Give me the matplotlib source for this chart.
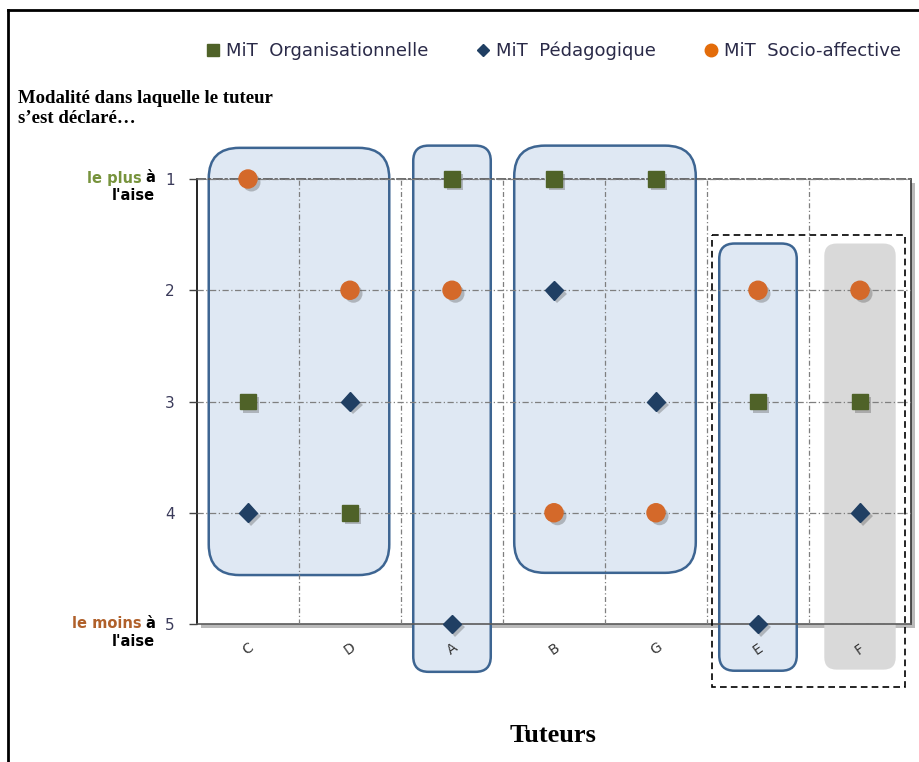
import numpy as np
import matplotlib.pyplot as plt
import matplotlib.patheffects as pe
from matplotlib.patches import FancyBboxPatch, Rectangle
from matplotlib.lines import Line2D

# donnees
tuteurs = ["C", "D", "A", "B", "G", "E", "F"]
organisationnelle = [3, 4, 1, 1, 1, 3, 3]
pedagogique = [4, 3, 5, 2, 3, 5, 4]
socio_affective = [1, 2, 2, 4, 4, 2, 2]
niveaux = [1, 2, 3, 4, 5]

W, H = 919, 762
fig = plt.figure(figsize=(W / 100, H / 100), dpi=100)
ax = fig.add_axes([197 / W, 138 / H, 714 / W, 445 / H])

x = np.arange(len(tuteurs))
ax.set_xlim(-0.5, len(tuteurs) - 0.5)
ax.set_ylim(5, 1)

# aspect pour avoir des coins arrondis circulaires
px_x = 714 / len(tuteurs)
px_y = 445 / 4
aspect = px_x / px_y


def boite(i0, i1, y0, y1, r, face, edge, dx=0.38):
    p = FancyBboxPatch((i0 - dx, y0), (i1 - i0) + 2 * dx, y1 - y0,
                       boxstyle=f"round,pad=0,rounding_size={r}",
                       mutation_aspect=aspect, facecolor=face,
                       edgecolor=edge, linewidth=1.8, clip_on=False, zorder=0.5)
    ax.add_patch(p)


bleu, bord = "#dfe8f3", "#3d6592"
boite(0, 1, 0.72, 4.56, 0.30, bleu, bord, dx=0.385)
boite(2, 2, 0.70, 5.43, 0.15, bleu, bord)
boite(3, 4, 0.70, 4.54, 0.30, bleu, bord, dx=0.39)
boite(5, 5, 1.58, 5.42, 0.15, bleu, bord)
boite(6, 6, 1.58, 5.41, 0.12, "#d9d9d9", "none", dx=0.35)
ax.add_patch(Rectangle((4.55, 1.50), 1.89, 4.07, fill=False, edgecolor="black",
                       linestyle=(0, (4, 2.5)), linewidth=1.2, clip_on=False, zorder=4))

ombre = [pe.SimplePatchShadow(offset=(2.5, -2.5), shadow_rgbFace="#555555", alpha=0.35),
         pe.Normal()]
ax.plot(x, organisationnelle, "s", ms=11.5, color="#4f6228", mec="#4f6228",
        zorder=5, clip_on=False, path_effects=ombre)
ax.plot(x, pedagogique, "D", ms=9.5, color="#203f63", mec="#203f63",
        zorder=5, clip_on=False, path_effects=ombre)
ax.plot(x, socio_affective, "o", ms=13, color="#d4692a", mec="#d4692a",
        zorder=5, clip_on=False, path_effects=ombre)

# grille
ax.set_axisbelow(False)
ax.set_xticks(x)
ax.set_xticks(x[:-1] + 0.5, minor=True)
ax.set_yticks(niveaux)
ax.grid(True, which="minor", axis="x", color="#7f7f7f", linestyle=(0, (4, 2, 1, 2)), lw=0.9, zorder=1)
ax.grid(True, which="major", axis="y", color="#7f7f7f", linestyle=(0, (5, 2, 1, 2)), lw=0.9, zorder=1)
ax.grid(False, which="major", axis="x")
ax.tick_params(axis="x", which="both", length=0)
ax.tick_params(axis="y", length=6, width=1, color="#444444", pad=10,
               labelsize=11, labelcolor="#3a3a5a")
ax.set_xticklabels(tuteurs, rotation=35, fontsize=10, color="#333333")
ax.tick_params(axis="x", pad=18)
for lab in ax.get_xticklabels():
    lab.set_ha("center")
    lab.set_va("center")

ax.spines["top"].set_linestyle((0, (5, 2, 1, 2)))
ax.spines["top"].set_color("#555555")
ax.spines["left"].set_color("black")
ax.spines["bottom"].set_color("#5a5a5a")
ax.spines["right"].set_color("#333333")
for s in ax.spines.values():
    s.set_linewidth(1.2)
ax.patch.set_path_effects([pe.SimplePatchShadow(offset=(3, -3), shadow_rgbFace="#777777", alpha=0.5),
                           pe.Normal()])

# legende
poignees = [
    Line2D([], [], marker="s", ls="none", ms=8, color="#4f6228"),
    Line2D([], [], marker="D", ls="none", ms=6.5, color="#203f63"),
    Line2D([], [], marker="o", ls="none", ms=9, color="#e36c0a"),
]
fig.legend(poignees, ["MiT  Organisationnelle", "MiT  Pédagogique", "MiT  Socio-affective"],
           loc="center", bbox_to_anchor=(553 / W, 1 - 51 / H), ncol=3, frameon=False,
           fontsize=13, handletextpad=0.25, columnspacing=2.6, handlelength=0.9,
           labelcolor="#2a2a48")

# titres
fig.text(18 / W, 1 - 90 / H, "Modalité dans laquelle le tuteur\ns’est déclaré…",
         family="Liberation Serif", weight="bold", fontsize=13.5, va="top", ha="left",
         linespacing=1.2)
fig.text(553 / W, 1 - 735 / H, "Tuteurs", family="Liberation Serif", weight="bold",
         fontsize=19, ha="center", va="center")

# etiquettes "le plus / le moins a l'aise"
for yy, mot, coul in [(178, "le plus", "#77933c"), (623, "le moins", "#b0602a")]:
    fig.text(155 / W, 1 - yy / H, "à", weight="bold", fontsize=10.5, ha="right",
             va="center", color="black")
    fig.text(142 / W, 1 - yy / H, mot, weight="bold", fontsize=10.5, ha="right",
             va="center", color=coul)
    fig.text(155 / W, 1 - (yy + 18) / H, "l'aise", weight="bold", fontsize=10.5,
             ha="right", va="center", color="black")

# cadre
fig.add_artist(Line2D([8 / W, 1], [1 - 10 / H, 1 - 10 / H], color="black", lw=2))
fig.add_artist(Line2D([8 / W, 8 / W], [0, 1 - 10 / H], color="black", lw=2))

fig.savefig("out.png", dpi=100)
